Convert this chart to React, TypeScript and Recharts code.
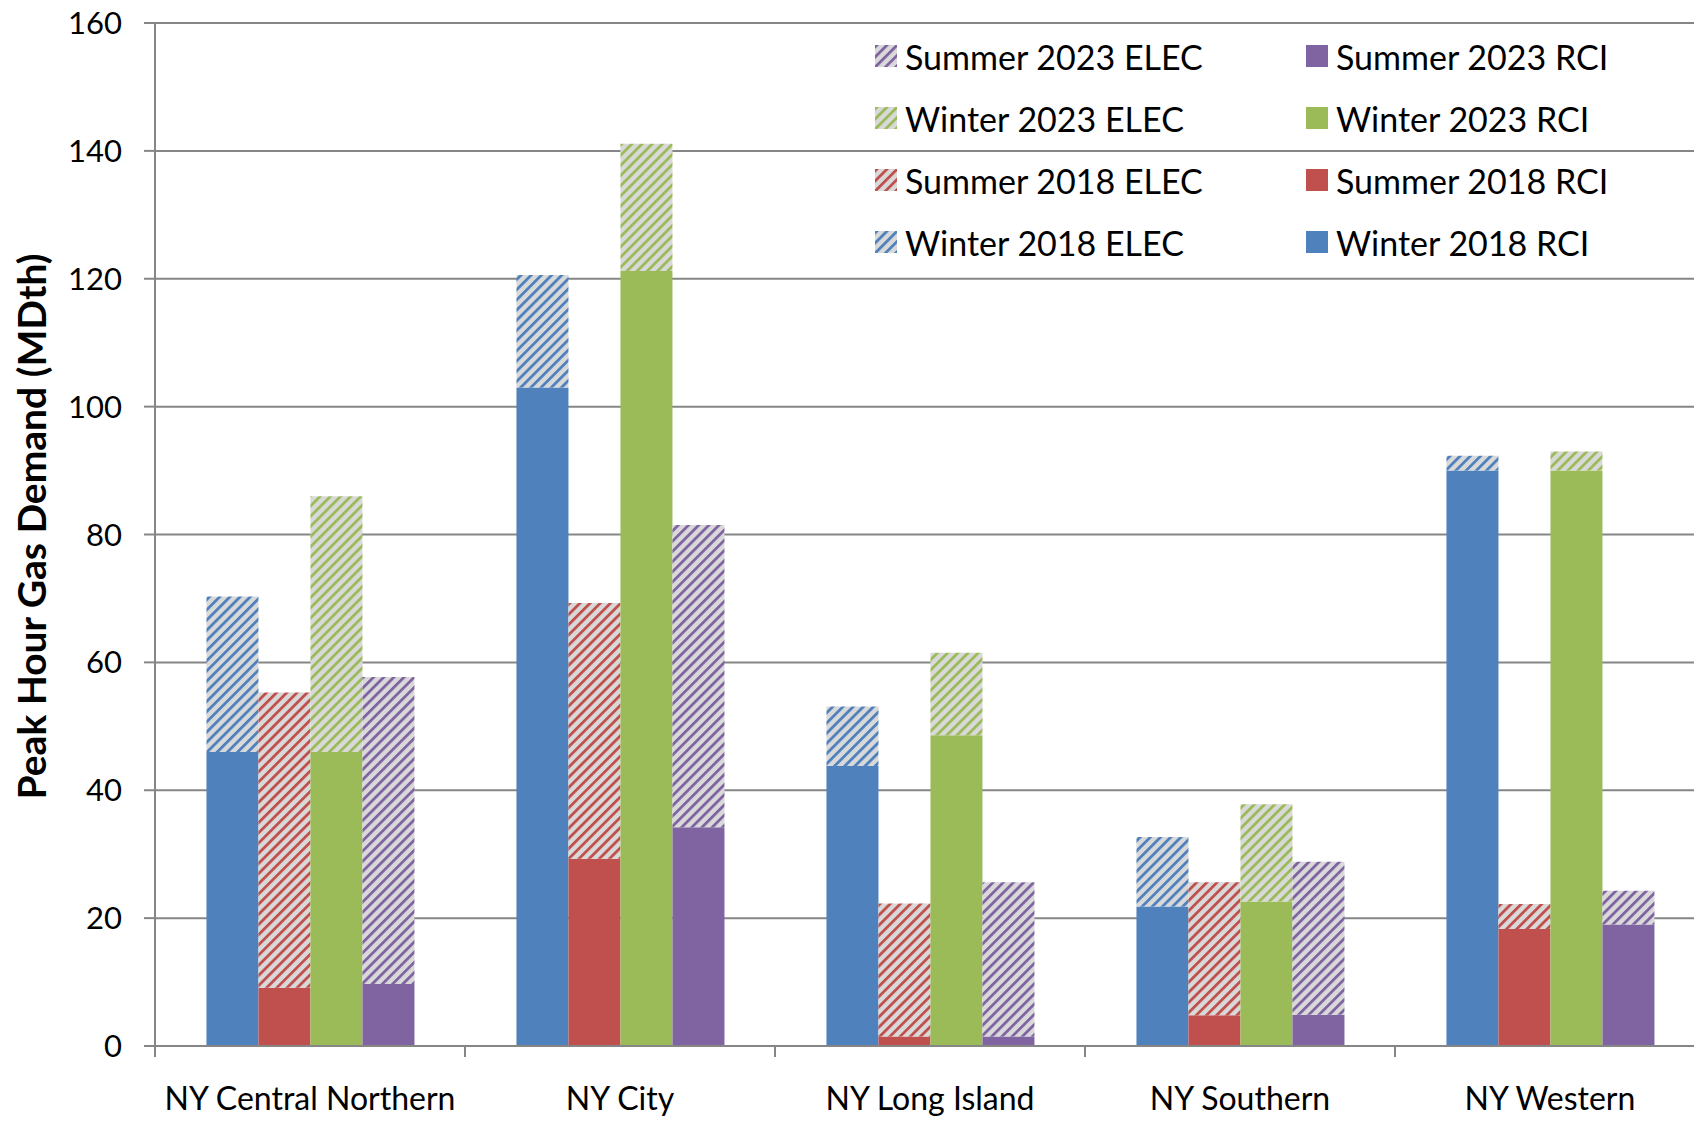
import { BarChart, Bar, XAxis, YAxis, CartesianGrid, Legend } from "recharts";

const CATEGORIES = ["NY Central Northern", "NY City", "NY Long Island", "NY Southern", "NY Western"];

// RCI = solid part, ELEC = hatched part stacked on top
const WINTER_2018_RCI = [46.0, 103.0, 43.8, 21.8, 90.0];
const WINTER_2018_ELEC = [24.3, 17.6, 9.3, 10.9, 2.3];
const SUMMER_2018_RCI = [9.1, 29.3, 1.5, 4.8, 18.3];
const SUMMER_2018_ELEC = [46.2, 40.0, 20.8, 20.8, 3.9];
const WINTER_2023_RCI = [46.0, 121.2, 48.6, 22.6, 90.0];
const WINTER_2023_ELEC = [40.0, 19.9, 12.9, 15.2, 3.0];
const SUMMER_2023_RCI = [9.7, 34.2, 1.5, 4.9, 19.0];
const SUMMER_2023_ELEC = [48.0, 47.3, 24.1, 23.9, 5.3];

const Y_TICKS = [0, 20, 40, 60, 80, 100, 120, 140, 160];

const COLORS = {
  w18: "#4F81BD",
  s18: "#C0504D",
  w23: "#9BBB59",
  s23: "#8064A2",
};

const FONT = "Lato, 'Open Sans', sans-serif";

const data = CATEGORIES.map((name, i) => ({
  name,
  w18rci: WINTER_2018_RCI[i],
  w18elec: WINTER_2018_ELEC[i],
  s18rci: SUMMER_2018_RCI[i],
  s18elec: SUMMER_2018_ELEC[i],
  w23rci: WINTER_2023_RCI[i],
  w23elec: WINTER_2023_ELEC[i],
  s23rci: SUMMER_2023_RCI[i],
  s23elec: SUMMER_2023_ELEC[i],
}));

// legend is listed in Excel's reversed order, two columns
const LEGEND_ELEC = [
  { label: "Summer 2023 ELEC", key: "s23" },
  { label: "Winter 2023 ELEC", key: "w23" },
  { label: "Summer 2018 ELEC", key: "s18" },
  { label: "Winter 2018 ELEC", key: "w18" },
];
const LEGEND_RCI = [
  { label: "Summer 2023 RCI", key: "s23" },
  { label: "Winter 2023 RCI", key: "w23" },
  { label: "Summer 2018 RCI", key: "s18" },
  { label: "Winter 2018 RCI", key: "w18" },
];

function Swatch({ fill }: { fill: string }) {
  return (
    <svg width={22} height={22} style={{ display: "block", flex: "none" }}>
      <rect width={22} height={22} fill={fill} />
    </svg>
  );
}

function LegendColumn({ items, hatched }: { items: { label: string; key: string }[]; hatched: boolean }) {
  return (
    <div style={{ display: "flex", flexDirection: "column", gap: 0 }}>
      {items.map((it) => (
        <div key={it.label} style={{ display: "flex", alignItems: "center", height: 62, gap: 8 }}>
          <Swatch fill={hatched ? `url(#hatch-${it.key})` : COLORS[it.key as keyof typeof COLORS]} />
          <span style={{ fontFamily: FONT, fontSize: 34, color: "#000", whiteSpace: "nowrap" }}>{it.label}</span>
        </div>
      ))}
    </div>
  );
}

function ChartLegend() {
  return (
    <div style={{ display: "flex" }}>
      <div style={{ width: 431 }}>
        <LegendColumn items={LEGEND_ELEC} hatched />
      </div>
      <LegendColumn items={LEGEND_RCI} hatched={false} />
    </div>
  );
}

function CategoryTick(props: any) {
  const { x, y, payload, width } = props;
  const half = payload?.offset ?? width / CATEGORIES.length / 2;
  const axisY = y - 11;
  return (
    <g>
      <line x1={x - half} x2={x - half} y1={axisY} y2={axisY + 11} stroke="#868686" strokeWidth={2} />
      <text x={x} y={axisY + 64} textAnchor="middle" fontFamily={FONT} fontSize={32} fill="#000">
        {payload.value}
      </text>
    </g>
  );
}

function AxisTitle(props: any) {
  const vb = props.viewBox || { x: 0, y: 23, width: 155, height: 1023 };
  const cx = 31;
  const cy = vb.y + vb.height / 2 - 8;
  return (
    <text
      x={cx}
      y={cy}
      transform={`rotate(-90, ${cx}, ${cy})`}
      textAnchor="middle"
      dominantBaseline="central"
      fontFamily={FONT}
      fontWeight="bold"
      fontSize={39}
      fill="#000"
    >
      Peak Hour Gas Demand (MDth)
    </text>
  );
}

export default function App() {
  return (
    <div
      style={{
        position: "absolute",
        left: 0,
        top: 0,
        width: 1694,
        height: 1121,
        overflow: "hidden",
        background: "#fff",
      }}
    >
      <BarChart
        width={1720}
        height={1121}
        data={data}
        margin={{ top: 23, right: 15, bottom: 0, left: 0 }}
        barCategoryGap="16.6%"
        barGap={0}
      >
        <defs>
          {Object.entries(COLORS).map(([k, c]) => (
            <pattern
              key={k}
              id={`hatch-${k}`}
              patternUnits="userSpaceOnUse"
              width={7.2}
              height={7.2}
              patternTransform="rotate(45)"
            >
              <rect width={7.2} height={7.2} fill="#D9D9D9" />
              <rect width={2.8} height={7.2} fill={c} />
            </pattern>
          ))}
        </defs>
        <CartesianGrid vertical={false} stroke="#868686" strokeWidth={2} />
        <XAxis
          dataKey="name"
          height={75}
          axisLine={{ stroke: "#868686", strokeWidth: 2 }}
          tickLine={false}
          tickSize={11}
          tickMargin={0}
          interval={0}
          tick={<CategoryTick />}
        />
        <YAxis
          width={155}
          domain={[0, 160]}
          ticks={Y_TICKS}
          interval={0}
          axisLine={{ stroke: "#868686", strokeWidth: 2 }}
          tickLine={{ stroke: "#868686", strokeWidth: 2 }}
          tickSize={11}
          tickMargin={22}
          tick={{ fontFamily: FONT, fontSize: 31, fill: "#000" }}
          label={<AxisTitle />}
        />
        <Legend
          layout="vertical"
          align="center"
          verticalAlign="middle"
          wrapperStyle={{ position: "absolute", left: 875, top: 25, width: 800 }}
          content={() => <ChartLegend />}
        />
        <Bar dataKey="w18rci" stackId="w18" fill={COLORS.w18} isAnimationActive={false} />
        <Bar dataKey="w18elec" stackId="w18" fill="url(#hatch-w18)" isAnimationActive={false} />
        <Bar dataKey="s18rci" stackId="s18" fill={COLORS.s18} isAnimationActive={false} />
        <Bar dataKey="s18elec" stackId="s18" fill="url(#hatch-s18)" isAnimationActive={false} />
        <Bar dataKey="w23rci" stackId="w23" fill={COLORS.w23} isAnimationActive={false} />
        <Bar dataKey="w23elec" stackId="w23" fill="url(#hatch-w23)" isAnimationActive={false} />
        <Bar dataKey="s23rci" stackId="s23" fill={COLORS.s23} isAnimationActive={false} />
        <Bar dataKey="s23elec" stackId="s23" fill="url(#hatch-s23)" isAnimationActive={false} />
      </BarChart>
    </div>
  );
}
